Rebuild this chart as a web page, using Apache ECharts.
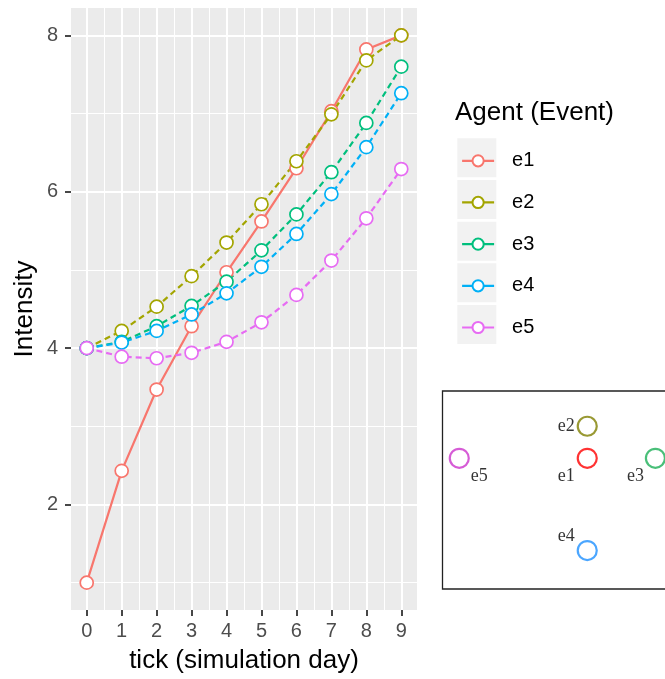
<!DOCTYPE html>
<html>
<head>
<meta charset="utf-8">
<style>
  html, body { margin: 0; padding: 0; background: #ffffff; }
  #chart { width: 665px; height: 679px; }
</style>
<script src="https://cdn.jsdelivr.net/npm/echarts@6/dist/echarts.min.js"></script>
</head>
<body>
<div id="chart"></div>
<script>
// ---------- data ----------
const ticks = [0, 1, 2, 3, 4, 5, 6, 7, 8, 9];
const seriesNames = ['e1', 'e2', 'e3', 'e4', 'e5'];
const e1 = [1.00, 2.43, 3.47, 4.28, 4.97, 5.62, 6.30, 7.03, 7.82, 8.00];
const e2 = [4.00, 4.22, 4.53, 4.92, 5.35, 5.84, 6.39, 6.99, 7.68, 8.00];
const e3 = [4.00, 4.08, 4.28, 4.54, 4.85, 5.25, 5.71, 6.25, 6.88, 7.60];
const e4 = [4.00, 4.07, 4.22, 4.43, 4.70, 5.04, 5.46, 5.97, 6.57, 7.26];
const e5 = [4.00, 3.89, 3.87, 3.94, 4.08, 4.33, 4.68, 5.12, 5.66, 6.29];
const yTicks = [2, 4, 6, 8];
const yMinor = [1, 3, 5, 7];
const xMinor = [0.5, 1.5, 2.5, 3.5, 4.5, 5.5, 6.5, 7.5, 8.5];

// network inset (layout coordinates)
const nodeNames = ['e1', 'e2', 'e3', 'e4', 'e5'];
const nodeX = [0, 0, 2.13, 0, -4.0];
const nodeY = [0, 1.0, 0, -2.88, 0];

// ---------- styles ----------
const colors = ['#F8766D', '#A3A500', '#00BF7D', '#00B0F6', '#E76BF3'];
const dashes = ['solid', [6, 4], [6, 4], [6, 4], [6, 4]];
const nodeColors = ['#FF0000', '#808000', '#1DAF57', '#1E90FF', '#CC33CC'];
const nodeLabelOffsets = [[-21, 18], [-21, 0], [-20, 18], [-21, -14], [20, 18]];
const FONT = 'Liberation Sans, Arial, sans-serif';

const values = [e1, e2, e3, e4, e5];

const lineSeries = seriesNames.map((name, i) => ({
  name: name,
  type: 'line',
  xAxisIndex: 0,
  yAxisIndex: 0,
  data: ticks.map((t, j) => [t, values[i][j]]),
  color: colors[i],
  symbol: 'circle',
  symbolSize: 13,
  showSymbol: true,
  lineStyle: { color: colors[i], width: 2.2, type: dashes[i] },
  itemStyle: { color: '#ffffff', borderColor: colors[i], borderWidth: 1.7 },
  emphasis: { disabled: true },
  animation: false,
  z: 3
}));

const netSeries = {
  type: 'scatter',
  xAxisIndex: 2,
  yAxisIndex: 2,
  symbol: 'circle',
  symbolSize: 19,
  animation: false,
  clip: false,
  data: nodeNames.map((n, i) => ({
    name: n,
    value: [nodeX[i], nodeY[i]],
    itemStyle: { color: 'rgba(255,255,255,0)', borderColor: nodeColors[i], borderWidth: 2.2 },
    label: {
      show: true,
      formatter: n,
      position: 'inside',
      offset: nodeLabelOffsets[i],
      color: '#000',
      fontFamily: 'Liberation Serif, DejaVu Serif, serif',
      fontSize: 18
    }
  })),
  emphasis: { disabled: true }
};

// legends: one per key
const keyTop0 = 138.3, keyStep = 41.67, keySize = 39;
const legends = seriesNames.map((name, i) => ({
  data: [name],
  orient: 'vertical',
  left: 461,
  top: keyTop0 + i * keyStep + keySize / 2 - 7,
  padding: 0,
  itemWidth: 32,
  itemHeight: 14,
  selectedMode: false,
  lineStyle: { type: 'solid', width: 2.2 },
  textStyle: { fontFamily: FONT, fontSize: 20, color: '#000', padding: [0, 0, 0, 13] }
}));

const keyRects = seriesNames.map((name, i) => ({
  type: 'rect',
  shape: { x: 457.3, y: keyTop0 + i * keyStep, width: keySize, height: keySize },
  style: { fill: '#F2F2F2' },
  z: -1
}));

const insetFrame = {
  type: 'rect',
  shape: { x: 442.5, y: 391, width: 260, height: 198 },
  style: { fill: null, stroke: '#222', lineWidth: 1.3 },
  z: 1
};

const option = {
  backgroundColor: '#ffffff',
  animation: false,
  title: {
    text: 'Agent (Event)',
    left: 455,
    top: 100,
    padding: 0,
    textStyle: { fontFamily: FONT, fontSize: 26, fontWeight: 'normal', color: '#000' }
  },
  legend: legends,
  graphic: keyRects.concat([insetFrame]),
  grid: [
    { left: 71, top: 8, width: 346, height: 602, show: true, backgroundColor: '#EBEBEB', borderWidth: 0 },
    { left: 442, top: 391, width: 223, height: 198, show: false }
  ],
  xAxis: [
    {
      type: 'value', gridIndex: 0, min: -0.45, max: 9.45,
      name: 'tick (simulation day)', nameLocation: 'middle', nameGap: 38, nameMoveOverlap: false,
      nameTextStyle: { fontFamily: FONT, fontSize: 26, color: '#000' },
      axisLine: { show: false, onZero: false },
      axisTick: { show: true, length: 6, lineStyle: { color: '#333', width: 1.8 }, customValues: ticks },
      axisLabel: { show: true, customValues: ticks, margin: 11, fontFamily: FONT, fontSize: 20, color: '#4D4D4D' },
      splitLine: { show: true, lineStyle: { color: '#ffffff', width: 2 } }
    },
    {
      type: 'value', gridIndex: 0, min: -0.45, max: 9.45, position: 'bottom',
      axisLine: { show: false, onZero: false },
      axisTick: { show: false, customValues: xMinor },
      axisLabel: { show: false, customValues: xMinor },
      splitLine: { show: true, lineStyle: { color: '#ffffff', width: 1 } }
    },
    {
      type: 'value', gridIndex: 1, min: -4.54, max: 2.43, show: false,
      axisLine: { onZero: false },
      splitLine: { show: false }
    }
  ],
  yAxis: [
    {
      type: 'value', gridIndex: 0, min: 0.65, max: 8.35,
      name: 'Intensity', nameLocation: 'middle', nameGap: 33, nameRotate: 90, nameMoveOverlap: false,
      nameTextStyle: { fontFamily: FONT, fontSize: 26, color: '#000' },
      axisLine: { show: false, onZero: false },
      axisTick: { show: true, length: 6, lineStyle: { color: '#333', width: 1.8 }, customValues: yTicks },
      axisLabel: { show: true, customValues: yTicks, margin: 13, fontFamily: FONT, fontSize: 20, color: '#4D4D4D' },
      splitLine: { show: true, lineStyle: { color: '#ffffff', width: 2 } }
    },
    {
      type: 'value', gridIndex: 0, min: 0.65, max: 8.35, position: 'left',
      axisLine: { show: false, onZero: false },
      axisTick: { show: false, customValues: yMinor },
      axisLabel: { show: false, customValues: yMinor },
      splitLine: { show: true, lineStyle: { color: '#ffffff', width: 1 } }
    },
    {
      type: 'value', gridIndex: 1, min: -4.08, max: 2.10, show: false,
      axisLine: { onZero: false },
      splitLine: { show: false }
    }
  ],
  series: lineSeries.concat([netSeries])
};

const chart = echarts.init(document.getElementById('chart'), null, { renderer: 'canvas' });
chart.setOption(option);
</script>
</body>
</html>
